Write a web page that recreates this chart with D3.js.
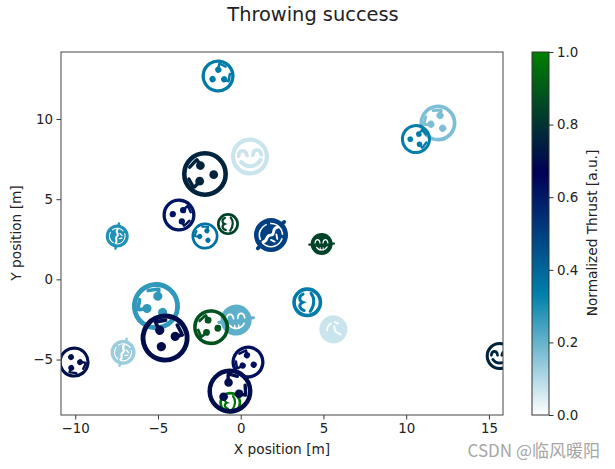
<!DOCTYPE html>
<html><head><meta charset="utf-8">
<script src="https://cdnjs.cloudflare.com/ajax/libs/d3/7.8.5/d3.min.js"></script>
<style>html,body{margin:0;padding:0;background:#fff}svg{display:block}
text{font-family:"DejaVu Sans",sans-serif;fill:#222}</style></head><body>
<script>
const xPositions=[-1.37,-2.16,-3.73,-2.16,11.92,10.59,-5.12,-4.57,-0.28,-1.79,-10.07,-0.63,-0.65,0.44,0.56,15.65,4.02,-0.77,-7.46,-7.11,4.89,1.83,5.60];
const yPositions=[12.68,6.57,4.01,2.70,9.75,8.75,-1.67,-3.66,-2.54,-2.98,-5.16,-7.70,-6.97,-5.16,7.66,-4.78,-1.43,3.45,2.70,-4.55,2.20,2.76,-3.12];
const markerSizes=[33,46,33,27,37,30,48,49,31,36,31,22,45,33,38,28,30,22,23,25,22,34,28];
const thrusts=[0.35,0.76,0.61,0.37,0.17,0.34,0.27,0.70,0.21,0.88,0.71,0.97,0.70,0.63,0.07,0.76,0.35,0.84,0.29,0.13,0.84,0.50,0.07];
const shapes=["dots","dots","dots","dots","dots","dots","dots","dots","discFace","dots","dots","bracket","dots","dots","smile","smile","bracket","bracket","disc","disc","discFace","disc","discPlain"];
const angles=[146,0,184,49,44,174,39,109,-5,5,234,0,134,20,-3,0,0,0,8,15,0,45,170];
const xTicks=[-10,-5,0,5,10,15], yTicks=[-5,0,5,10], cTicks=[0,0.2,0.4,0.6,0.8,1];
const colorStops=["#ffffff","#0080aa","#000055","#008000"];
const titleText="Throwing success", xLabel="X position [m]", yLabel="Y position [m]", cLabel="Normalized Thrust [a.u.]", watermark="CSDN @临风暖阳";

const W=615,H=469,L=61,R=503,T=52,B=415,CL=532,CR=549;
const x=d3.scaleLinear().domain([-10.86,15.85]).range([L,R]);
const y=d3.scaleLinear().domain([-8.46,14.18]).range([B,T]);
const r=d3.scaleLinear().domain([0,1]).range([0,0.5]);
const cScale=d3.scaleLinear().domain([0,1/3,2/3,1]).range(colorStops).clamp(true);
const cAxisScale=d3.scaleLinear().domain([0,1]).range([B,T]);

const svg=d3.select("body").append("svg").attr("width",W).attr("height",H);
const defs=svg.append("defs");
defs.append("clipPath").attr("id","plot").append("rect").attr("x",L).attr("y",T).attr("width",R-L).attr("height",B-T);
const grad=defs.append("linearGradient").attr("id","cb").attr("x1",0).attr("x2",0).attr("y1",1).attr("y2",0);
colorStops.forEach((c,i)=>grad.append("stop").attr("offset",i/3).attr("stop-color",c));

function circle(g,cx,cy,rad,fill){g.append("circle").attr("cx",cx).attr("cy",cy).attr("r",rad).attr("fill",fill);}
function stroke(g,d,col,w){g.append("path").attr("d",d).attr("fill","none").attr("stroke",col).attr("stroke-width",w).attr("stroke-linecap","round");}
function ring(g,c,w){g.append("circle").attr("r",1-w/2).attr("fill","none").attr("stroke",c).attr("stroke-width",w);}
const draw={
 dots(g,c){
  ring(g,c,0.2);
  circle(g,-0.2,-0.37,0.19,c);circle(g,0.38,0.03,0.19,c);circle(g,-0.23,0.31,0.19,c);
  stroke(g,"M-0.66,-0.3L-0.4,-0.58M-0.35,-0.62L-0.2,-0.38",c,0.15);
  stroke(g,"M-0.7,0.22L-0.5,0.58M-0.45,0.55L-0.23,0.33",c,0.15);
 },
 smile(g,c){
  ring(g,c,0.22);
  stroke(g,"M-0.6,-0.05C-0.55,-0.42,-0.2,-0.42,-0.15,-0.05",c,0.19);
  stroke(g,"M0.15,-0.05C0.2,-0.42,0.55,-0.42,0.6,-0.05",c,0.19);
  stroke(g,"M-0.48,0.25C-0.25,0.6,0.3,0.6,0.55,0.2",c,0.21);
 },
 bracket(g,c){
  ring(g,c,0.24);
  stroke(g,"M-0.28,-0.55C-0.6,-0.4,-0.55,-0.1,-0.3,0C-0.55,0.1,-0.6,0.4,-0.2,0.55",c,0.2);
  stroke(g,"M0.25,-0.6C0.5,-0.3,0.5,0.2,0.2,0.6",c,0.2);
 },
 disc(g,c){
  circle(g,0,0,1,c);
  stroke(g,"M0,-1.1L0,-0.9M0,0.9L0,1.1",c,0.22);
  g.append("circle").attr("r",0.68).attr("fill","none").attr("stroke","#fff").attr("stroke-width",0.09).attr("stroke-dasharray","1.1 0.2");
  stroke(g,"M-0.05,-0.6C-0.3,-0.3,0.2,-0.2,0,0C-0.25,0.2,0.15,0.4,-0.05,0.62",'#fff',0.17);
  stroke(g,"M0.2,-0.25L0.42,-0.1M0.2,0.2L0.42,0.12",'#fff',0.11);
 },
 discFace(g,c){
  circle(g,0,0,1,c);
  stroke(g,"M-1.12,0.05L-0.9,0.05M0.9,-0.05L1.12,-0.05",c,0.2);
  stroke(g,"M-0.6,-0.1C-0.55,-0.5,-0.2,-0.5,-0.15,-0.1",'#fff',0.11);
  stroke(g,"M0.12,-0.1C0.17,-0.5,0.52,-0.5,0.57,-0.1",'#fff',0.11);
  stroke(g,"M-0.45,0.3C-0.25,0.62,0.3,0.62,0.5,0.25",'#fff',0.11);
  stroke(g,"M-0.12,0.33L-0.12,0.55M0.14,0.33L0.14,0.55",'#fff',0.09);
 },
 discPlain(g,c){
  circle(g,0,0,1,c);
  stroke(g,"M-0.45,-0.45L-0.1,-0.15M-0.1,-0.15L-0.1,0.2M0.1,0.45C0.3,0.35,0.45,0.15,0.45,0",'#fff',0.13);
  stroke(g,"M-0.4,0.35L-0.2,0.5",'#fff',0.13);
 }
};

const plot=svg.append("g").attr("clip-path","url(#plot)");
const groupData=d3.range(xPositions.length);
plot.selectAll("g.m").data(groupData).join("g").attr("class","m")
 .attr("transform",i=>`translate(${x(xPositions[i])},${y(yPositions[i])}) rotate(${angles[i]}) scale(${r(markerSizes[i])})`)
 .each(function(i){draw[shapes[i]](d3.select(this),cScale(thrusts[i]));});

const axisStyle=a=>{a.selectAll("text").attr("font-size",13.4).style("font-family",'"DejaVu Sans",sans-serif').attr("fill","#222");
 a.selectAll("line").attr("stroke","#333");a.select(".domain").remove();};
svg.append("g").attr("transform",`translate(0,${B})`).call(d3.axisBottom(x).tickValues(xTicks).tickSize(4.5).tickPadding(3.5).tickFormat(d3.format("d"))).call(axisStyle);
svg.append("g").attr("transform",`translate(${L},0)`).call(d3.axisLeft(y).tickValues(yTicks).tickSize(4.5).tickPadding(3.5).tickFormat(d3.format("d"))).call(axisStyle);
svg.append("rect").attr("x",L).attr("y",T).attr("width",R-L).attr("height",B-T).attr("fill","none").attr("stroke","#444").attr("stroke-width",1);

svg.append("rect").attr("x",CL).attr("y",T).attr("width",CR-CL).attr("height",B-T).attr("fill","url(#cb)").attr("stroke","#333").attr("stroke-width",1);
svg.append("g").attr("transform",`translate(${CR},0)`).call(d3.axisRight(cAxisScale).tickValues(cTicks).tickSize(4.5).tickPadding(3.5).tickFormat(d3.format(".1f"))).call(axisStyle);

svg.append("text").attr("x",313).attr("y",21).attr("text-anchor","middle").attr("font-size",19.4).text(titleText);
svg.append("text").attr("x",282).attr("y",454).attr("text-anchor","middle").attr("font-size",13.7).text(xLabel);
svg.append("text").attr("transform","translate(21,233) rotate(-90)").attr("text-anchor","middle").attr("font-size",13.7).text(yLabel);
svg.append("text").attr("transform","translate(597,233) rotate(-90)").attr("text-anchor","middle").attr("font-size",13.7).text(cLabel);
svg.append("text").attr("x",600).attr("y",457).attr("text-anchor","end").attr("font-size",17).style("font-family",'"Noto Sans CJK SC",sans-serif').style("fill","#a5a5a5").text(watermark);
</script></body></html>
